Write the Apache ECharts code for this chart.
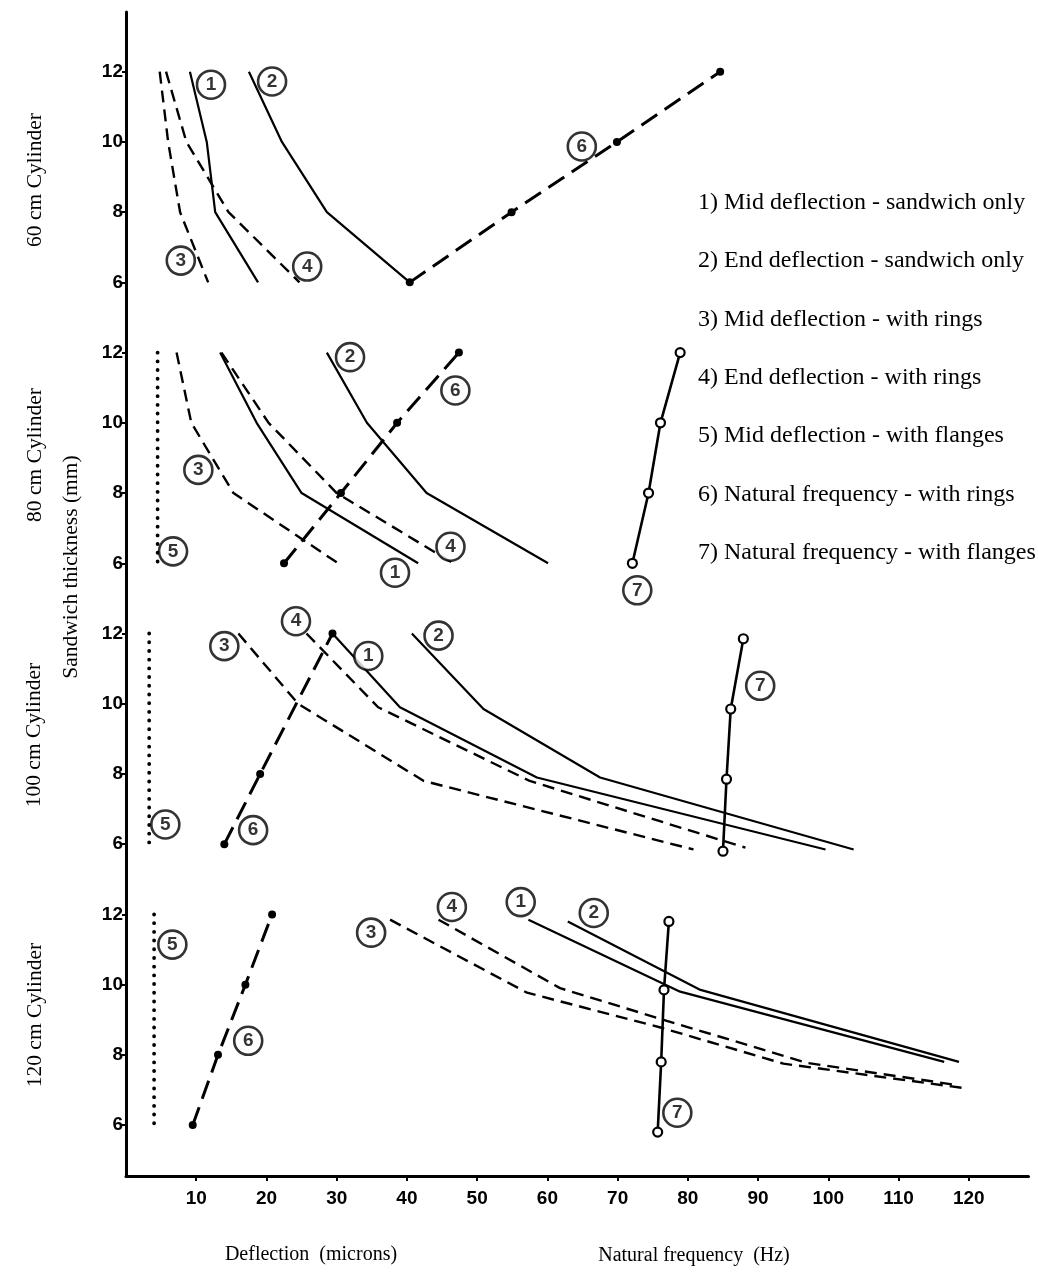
<!DOCTYPE html>
<html>
<head>
<meta charset="utf-8">
<script src="https://cdn.jsdelivr.net/npm/echarts@6/dist/echarts.min.js"></script>
<style>
html,body{margin:0;padding:0;background:#fff;}
#chart{width:1038px;height:1277px;}
</style>
</head>
<body>
<div id="chart"></div>
<script>
// ---------- tick labels / categories ----------
const xTicks = [10, 20, 30, 40, 50, 60, 70, 80, 90, 100, 110, 120];
const thicknessTicks = [6, 8, 10, 12];
const panelNames = ['60 cm Cylinder', '80 cm Cylinder', '100 cm Cylinder', '120 cm Cylinder'];
const seriesNames = [
  '1) Mid deflection - sandwich only',
  '2) End deflection - sandwich only',
  '3) Mid deflection - with rings',
  '4) End deflection - with rings',
  '5) Mid deflection - with flanges',
  '6) Natural frequency - with rings',
  '7) Natural frequency - with flanges'
];
const xTitleLeft = 'Deflection  (microns)';
const xTitleRight = 'Natural frequency  (Hz)';
const yTitle = 'Sandwich thickness (mm)';

// ---------- data: [x value, sandwich thickness mm] ----------
// 60 cm cylinder
const s1_60 = [[9.1, 12], [11.5, 10], [12.7, 8], [18.8, 6]];
const s2_60 = [[17.5, 12], [22.2, 10], [28.6, 8], [40.4, 6]];
const s3_60 = [[4.8, 12], [6.0, 10], [7.7, 8], [11.7, 6]];
const s4_60 = [[5.7, 12], [8.6, 10], [14.6, 8], [24.7, 6]];
const s6_60 = [[40.4, 6], [54.9, 8], [69.9, 10], [84.6, 12]];
// 80 cm cylinder
const s1_80 = [[13.4, 12], [18.6, 10], [25.0, 8], [41.6, 6]];
const s2_80 = [[28.6, 12], [34.3, 10], [42.8, 8], [60.1, 6]];
const s3_80 = [[7.2, 12], [9.3, 10], [15.3, 8], [30.2, 6]];
const s4_80 = [[13.6, 12], [20.3, 10], [30.0, 8], [46.6, 6]];
const s5_80 = [[4.5, 12], [4.5, 6]];
const s6_80 = [[22.5, 6], [30.6, 8], [38.6, 10], [47.4, 12]];
const s7_80 = [[72.1, 6], [74.4, 8], [76.1, 10], [78.9, 12]];
// 100 cm cylinder
const s1_100 = [[29.4, 12], [39.0, 9.9], [58.5, 7.9], [99.6, 5.85]];
const s2_100 = [[40.7, 12], [50.9, 9.85], [67.5, 7.9], [103.6, 5.85]];
const s3_100 = [[16.0, 12], [24.5, 10], [42.4, 7.8], [80.8, 5.85]];
const s4_100 = [[25.7, 12], [35.9, 9.9], [57.5, 7.8], [88.2, 5.9]];
const s5_100 = [[3.3, 12], [3.3, 6]];
const s6_100 = [[14.0, 6], [19.1, 8], [29.4, 12]];
const s7_100 = [[85.0, 5.8], [85.5, 7.85], [86.1, 9.85], [87.9, 11.85]];
// 120 cm cylinder
const s1_120 = [[57.3, 11.85], [78.9, 9.8], [116.5, 7.8]];
const s2_120 = [[62.9, 11.8], [81.8, 9.85], [118.6, 7.8]];
const s3_120 = [[37.6, 11.85], [57.1, 9.77], [76.1, 8.78], [93.6, 7.75], [119.8, 7.04]];
const s4_120 = [[44.5, 11.85], [61.8, 9.9], [77.0, 8.97], [97.0, 7.77], [118.3, 7.14]];
const s5_120 = [[4.0, 12], [4.0, 6]];
const s6_120 = [[9.5, 6], [13.1, 8], [17.0, 10], [20.8, 12]];
const s7_120 = [[75.7, 5.8], [76.2, 7.8], [76.6, 9.85], [77.3, 11.8]];

// circled curve numbers: [x, thickness, number]
const tags_60 = [[12.1, 11.63, '1'], [20.8, 11.72, '2'], [7.8, 6.62, '3'], [25.8, 6.45, '4'], [64.9, 9.87, '6']];
const tags_80 = [[31.9, 11.87, '2'], [46.9, 10.92, '6'], [10.3, 8.66, '3'], [46.2, 6.47, '4'], [6.7, 6.34, '5'], [38.3, 5.73, '1'], [72.8, 5.23, '7']];
const tags_100 = [[24.2, 12.35, '4'], [14.0, 11.64, '3'], [34.5, 11.36, '1'], [44.5, 11.94, '2'], [5.6, 6.56, '5'], [18.1, 6.40, '6'], [90.3, 10.51, '7']];
const tags_120 = [[6.6, 11.14, '5'], [17.4, 8.40, '6'], [34.9, 11.48, '3'], [46.4, 12.21, '4'], [56.2, 12.35, '1'], [66.6, 12.04, '2'], [78.5, 6.35, '7']];

// ---------- layout ----------
const panelOffset = [24, 16, 8, 0];   // vertical stacking of the four panels on one axis
const panelData = [
  [s1_60, s2_60, s3_60, s4_60, null, s6_60, null],
  [s1_80, s2_80, s3_80, s4_80, s5_80, s6_80, s7_80],
  [s1_100, s2_100, s3_100, s4_100, s5_100, s6_100, s7_100],
  [s1_120, s2_120, s3_120, s4_120, s5_120, s6_120, s7_120]
];
const panelTags = [tags_60, tags_80, tags_100, tags_120];

const styles = [
  {lineStyle: {width: 2.2, type: 'solid'}, symbol: 'none'},
  {lineStyle: {width: 2.2, type: 'solid'}, symbol: 'none'},
  {lineStyle: {width: 2.4, type: [12, 7]}, symbol: 'none'},
  {lineStyle: {width: 2.4, type: [12, 7]}, symbol: 'none'},
  {lineStyle: {width: 3.8, type: [0.1, 8.6], cap: 'round'}, symbol: 'none'},
  {lineStyle: {width: 3, type: [19, 9]}, symbol: 'circle', symbolSize: 8, itemStyle: {color: '#000'}},
  {lineStyle: {width: 2.6, type: 'solid'}, symbol: 'circle', symbolSize: 9,
   itemStyle: {color: '#fff', borderColor: '#000', borderWidth: 2.2}}
];

const series = [];
panelData.forEach((list, p) => {
  const off = panelOffset[p];
  list.forEach((d, k) => {
    if (!d) return;
    const st = styles[k];
    series.push({
      type: 'line',
      name: seriesNames[k],
      data: d.map(pt => [pt[0], pt[1] + off]),
      symbol: st.symbol,
      symbolSize: st.symbolSize || 4,
      showSymbol: st.symbol !== 'none',
      lineStyle: Object.assign({color: '#000'}, st.lineStyle),
      itemStyle: st.itemStyle || {color: '#000'},
      silent: true,
      z: 2
    });
  });
});
const tagData = [];
panelTags.forEach((list, p) => {
  list.forEach(t => tagData.push([t[0], t[1] + panelOffset[p], t[2]]));
});
series.push({
  type: 'scatter',
  name: 'tags',
  data: tagData,
  symbol: 'circle',
  symbolSize: 28,
  itemStyle: {color: '#fff', borderColor: '#000', borderWidth: 2.6},
  label: {
    show: true, position: 'inside', formatter: p => p.data[2],
    fontFamily: 'Liberation Sans', fontWeight: 'bold', fontSize: 19, color: '#000'
  },
  silent: true,
  z: 5
});

const yTicks = [];
panelOffset.slice().reverse().forEach(off => thicknessTicks.forEach(t => yTicks.push(t + off)));
const yLabelOf = v => String(((v - 6) % 8 + 8) % 8 + 6);

const serif = 'Liberation Serif';
const rotText = (txt, x, y) => ({
  type: 'text', x: x, y: y, rotation: Math.PI / 2,
  style: {text: txt, font: '21.5px "Liberation Serif"', fill: '#000', textAlign: 'center', textVerticalAlign: 'middle'}
});

const option = {
  animation: false,
  backgroundColor: '#fff',
  grid: {left: 126, right: 9.5, top: 12, bottom: 101, containLabel: false},
  legend: {
    data: seriesNames,
    orient: 'vertical',
    left: 686,
    top: 185,
    itemWidth: 1,
    itemHeight: 1,
    itemGap: 33.4,
    itemStyle: {opacity: 0},
    lineStyle: {opacity: 0},
    selectedMode: false,
    textStyle: {fontFamily: serif, fontSize: 24, lineHeight: 25, color: '#000'}
  },
  xAxis: {
    type: 'value', min: 0, max: 128.5,
    axisLine: {show: true, onZero: false, lineStyle: {color: '#000', width: 3}},
    axisTick: {show: true, customValues: xTicks, length: 5, lineStyle: {color: '#000', width: 2}},
    axisLabel: {customValues: xTicks, margin: 13, color: '#000', fontFamily: 'Liberation Sans', fontWeight: 'bold', fontSize: 19},
    splitLine: {show: false}
  },
  yAxis: {
    type: 'value', min: 4.55, max: 37.7,
    axisLine: {show: true, onZero: false, lineStyle: {color: '#000', width: 3}},
    axisTick: {show: true, customValues: yTicks, length: 4, lineStyle: {color: '#000', width: 2}},
    axisLabel: {customValues: yTicks, formatter: yLabelOf, margin: 3, color: '#000', fontFamily: 'Liberation Sans', fontWeight: 'bold', fontSize: 19},
    splitLine: {show: false}
  },
  graphic: [
    rotText(panelNames[0], 35, 180),
    rotText(panelNames[1], 35, 455),
    rotText(panelNames[2], 34, 735),
    rotText(panelNames[3], 35, 1015),
    rotText(yTitle, 71, 567),
    {type: 'text', x: 311, y: 1255, style: {text: xTitleLeft, font: '20px "Liberation Serif"', fill: '#000', textAlign: 'center', textVerticalAlign: 'middle'}},
    {type: 'text', x: 694, y: 1256, style: {text: xTitleRight, font: '20px "Liberation Serif"', fill: '#000', textAlign: 'center', textVerticalAlign: 'middle'}}
  ],
  series: series
};

const chart = echarts.init(document.getElementById('chart'), null, {renderer: 'canvas'});
chart.setOption(option);
</script>
</body>
</html>
